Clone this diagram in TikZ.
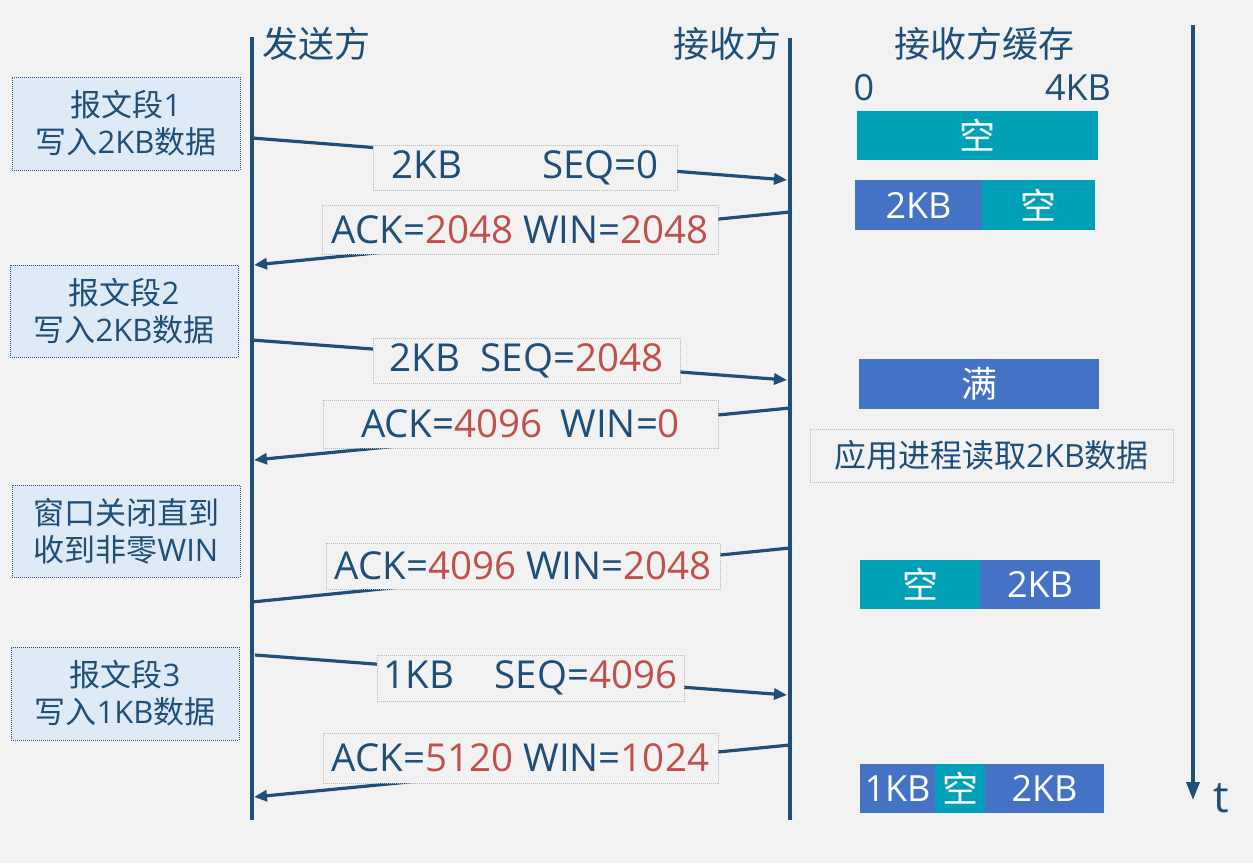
\documentclass[tikz,border=0pt]{standalone}
\usepackage{fontspec}
\setmainfont{Open Sans}
\newfontfamily\cjk{Noto Sans CJK SC}
\usetikzlibrary{arrows.meta}
\definecolor{bgc}{HTML}{F2F2F2}
\definecolor{navy}{HTML}{1F4E79}
\definecolor{redn}{HTML}{C0504D}
\definecolor{bufcyan}{HTML}{00A0B8}
\definecolor{bufblue}{HTML}{4472C4}
\definecolor{notefill}{HTML}{DEEBF7}
\definecolor{notedraw}{HTML}{2F4F7F}
\definecolor{msgdraw}{HTML}{B8B8B8}
\newcommand\rn[1]{\textcolor{redn}{#1}}
\tikzset{
  hdr/.style={text=navy, font=\fontsize{36}{40}\selectfont, inner sep=0pt},
  life/.style={draw=navy, line width=4.5pt},
  msgline/.style={draw=navy, line width=3.2pt},
  msgarrow/.style={msgline, -{Triangle[length=13pt,width=11pt]}},
  note/.style={fill=notefill, draw=notedraw, densely dotted, line width=1pt,
    text=navy, align=center, font=\fontsize{31}{37}\selectfont,
    minimum width=228pt, inner sep=0pt},
  msg/.style={fill=bgc, draw=msgdraw, densely dotted, line width=1pt,
    text=navy, font=\fontsize{38.5}{42}\selectfont, inner sep=0pt},
  bufbox/.style={text=white, font=\fontsize{36}{40}\selectfont, inner sep=0pt,
    minimum height=49pt},
}
\begin{document}
\begin{tikzpicture}[x=1pt,y=-1pt]
\fill[bgc] (0,0) rectangle (1253,863);
\useasboundingbox (0,0) rectangle (1253,863);

% headers
\node[hdr, anchor=west] (snd) at (262,44) {\cjk 发送方};
\node[hdr, anchor=east] (rcv) at (782,44) {\cjk 接收方};
\node[hdr] (bufhdr) at (984,44) {\cjk 接收方缓存};
\node[hdr] (zero) at (864,88) {0};
\node[hdr] (fourkb) at (1078,88) {4KB};

% lifelines
\coordinate (sTop) at (252,37);
\coordinate (sBot) at (252,820);
\coordinate (rTop) at (790,38);
\coordinate (rBot) at (790,820);
\coordinate (tTop) at (1193,25);
\coordinate (tBot) at (1193,800);
\draw[life] (sTop) -- (sBot);
\draw[life] (rTop) -- (rBot);
\draw[draw=navy, line width=3.2pt, -{Triangle[length=18pt,width=13pt]}] (tTop) -- (tBot);
\node[hdr, font=\fontsize{44}{48}\selectfont, anchor=center] (tlab) at (1221,798) {t};

% message lines
\coordinate (s1) at (252,138);  \coordinate (r1) at (787,180);
\coordinate (r2) at (790,212);  \coordinate (s2) at (254,265);
\coordinate (s3) at (252,340);  \coordinate (r3) at (787,380);
\coordinate (r4) at (790,408);  \coordinate (s4) at (254,460);
\coordinate (r5) at (790,548);  \coordinate (s5) at (252,602);
\coordinate (s6) at (255,655);  \coordinate (r6) at (787,695);
\coordinate (r7) at (790,745);  \coordinate (s7) at (254,797);
\draw[msgarrow] (s1) -- (r1);
\draw[msgarrow] (r2) -- (s2);
\draw[msgarrow] (s3) -- (r3);
\draw[msgarrow] (r4) -- (s4);
\draw[msgline] (r5) -- (s5);
\draw[msgarrow] (s6) -- (r6);
\draw[msgarrow] (r7) -- (s7);

% message labels
\node[msg, minimum width=304pt, minimum height=45pt] (m1) at (525,167.5) {2KB\hspace{80pt}SEQ=0};
\node[msg, minimum width=396pt, minimum height=49pt] (a1) at (520,229.5) {ACK=\rn{2048} WIN=\rn{2048}};
\node[msg, minimum width=307pt, minimum height=45pt] (m2) at (526.5,360.5) {2KB\hspace{20pt}SEQ=\rn{2048}};
\node[msg, minimum width=395pt, minimum height=48pt] (a2) at (520.5,424) {ACK=\rn{4096}\hspace{18pt}WIN=\rn{0}};
\node[msg, minimum width=394pt, minimum height=46pt] (a3) at (523,566) {ACK=\rn{4096} WIN=\rn{2048}};
\node[msg, minimum width=307pt, minimum height=46pt] (m3) at (530.5,678) {1KB\hspace{40pt}SEQ=\rn{4096}};
\node[msg, minimum width=395pt, minimum height=50pt] (a4) at (520.5,758) {ACK=\rn{5120} WIN=\rn{1024}};

% sender notes
\node[note, minimum height=93pt] (n1) at (126,123.5) {{\cjk 报文段}1\\{\cjk 写入}2KB{\cjk 数据}};
\node[note, minimum height=92pt] (n2) at (124,311) {{\cjk 报文段}2\\{\cjk 写入}2KB{\cjk 数据}};
\node[note, minimum height=92pt] (n3) at (126,531) {{\cjk 窗口关闭直到}\\{\cjk 收到非零}WIN};
\node[note, minimum height=93pt] (n4) at (125,693.5) {{\cjk 报文段}3\\{\cjk 写入}1KB{\cjk 数据}};

% receiver buffer
\node[bufbox, fill=bufcyan, minimum width=241pt] (b1) at (977.5,135.5) {\cjk 空};
\node[bufbox, fill=bufblue, minimum width=127pt, minimum height=50pt] (b2a) at (918.5,205) {2KB};
\node[bufbox, fill=bufcyan, minimum width=113pt, minimum height=50pt] (b2b) at (1038.5,205) {\cjk 空};
\node[bufbox, fill=bufblue, minimum width=240pt, minimum height=50pt] (b3) at (979,384) {\cjk 满};
\node[msg, font=\fontsize{32}{36}\selectfont, minimum width=363pt, minimum height=53pt] (rd) at (991.5,455.5) {{\cjk 应用进程读取}2KB{\cjk 数据}};
\node[bufbox, fill=bufcyan, minimum width=120pt] (b4a) at (920,584.5) {\cjk 空};
\node[bufbox, fill=bufblue, minimum width=120pt] (b4b) at (1040,584.5) {2KB};
\node[bufbox, fill=bufblue, minimum width=75pt] (b5a) at (897.5,788.5) {1KB};
\node[bufbox, fill=bufcyan, minimum width=50pt] (b5b) at (960,788.5) {\cjk 空};
\node[bufbox, fill=bufblue, minimum width=119pt] (b5c) at (1044.5,788.5) {2KB};
\end{tikzpicture}
\end{document}
